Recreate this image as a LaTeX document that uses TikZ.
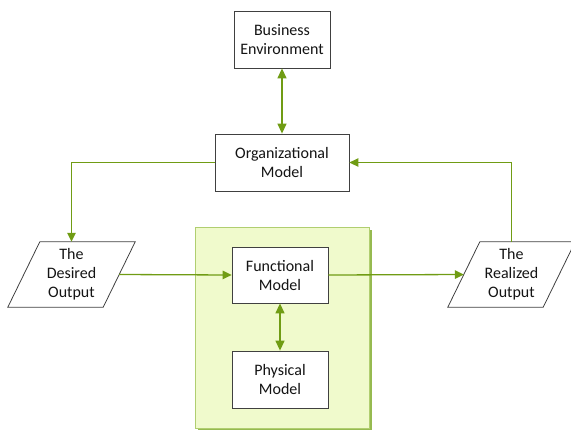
\documentclass[tikz,border=0pt]{standalone}
\usepackage{fontspec}
\setmainfont{Carlito}
\usetikzlibrary{arrows.meta}
\definecolor{flowGreen}{RGB}{112,156,20}
\definecolor{panelFill}{RGB}{240,250,204}
\definecolor{panelEdge}{RGB}{176,206,112}
\definecolor{panelShade}{RGB}{150,186,80}
\definecolor{boxEdge}{RGB}{64,64,64}

\begin{document}
\begin{tikzpicture}[x=1pt, y=-1pt,
    every node/.style={font=\fontsize{16}{19}\selectfont, text=black!92, align=center},
    block/.style={draw=boxEdge, line width=0.8pt, fill=white, minimum width=96pt, minimum height=57pt, inner sep=0pt},
    iobox/.style={minimum width=95pt, minimum height=65pt, inner sep=0pt},
    flow/.style={flowGreen, line width=1.3pt, -{Triangle[length=9pt, width=8.5pt]}},
    twoway/.style={flowGreen, line width=1.3pt, {Triangle[length=10pt, width=9pt]}-{Triangle[length=10pt, width=9pt]}}]
    \useasboundingbox (0,0) rectangle (571,429);
    % shaded panel behind the inner models
    \fill[panelShade] (198,230) rectangle (372,431);
    \draw[panelEdge, line width=0.8pt, fill=panelFill] (195,227) rectangle (369,428);
    % blocks
    \node[block] (busenv) at (282,39.5) {Business\\Environment};
    \node[block, minimum width=134pt] (orgmodel) at (282,162.5) {Organizational\\Model};
    \node[block, minimum height=56pt] (funcmodel) at (280,275) {Functional\\Model};
    \node[block] (physmodel) at (280,379.5) {Physical\\Model};
    \node[iobox] (desired) at (71.5,274.5) {The\\Desired\\Output};
    \node[iobox] (realized) at (511.5,274.5) {The\\Realized\\Output};
    % slanted outlines round the two outputs
    \foreach \n in {desired,realized}{
      \draw[boxEdge, line width=0.8pt] ([xshift=16pt]\n.north west) -- ([xshift=16pt]\n.north east)
        -- ([xshift=-16pt]\n.south east) -- ([xshift=-16pt]\n.south west) -- cycle;}
    % connectors
    \draw[twoway] (busenv) -- (orgmodel);
    \draw[twoway] (funcmodel) -- (physmodel);
    \draw[flow] (orgmodel.west) -| (desired.north);
    \draw[flow] (desired.east) -- (funcmodel.west);
    \draw[flow] (funcmodel.east) -- (realized.west);
    \draw[flow] (realized.north) |- (orgmodel.east);
  \end{tikzpicture}
\end{document}
